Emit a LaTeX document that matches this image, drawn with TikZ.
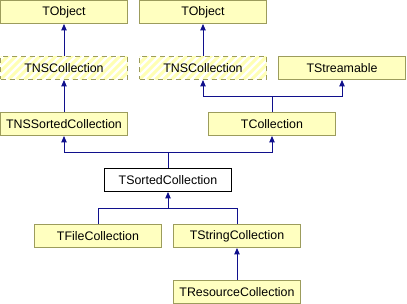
\documentclass[tikz,border=0pt]{standalone}
\usepackage{fontspec}
\setmainfont{Liberation Sans}
\usetikzlibrary{arrows.meta}
\definecolor{boxfill}{HTML}{FFFFC0}
\definecolor{boxline}{HTML}{9C9C5C}
\definecolor{hatch}{HTML}{FFFFB4}
\definecolor{edgecol}{HTML}{10108C}
\tikzset{
  cls/.style={draw=boxline, fill=boxfill, line width=1pt, minimum width=127pt, minimum height=23pt, inner sep=0pt, font=\fontsize{12.4}{14}\selectfont},
  plain/.style={cls, draw=black, fill=white},
  hatched/.style={cls, fill=white, dash pattern=on 5pt off 4pt,
    path picture={
      \foreach \i in {-40,-32,...,140}{
        \draw[hatch, line width=3pt, solid] ([xshift=\i pt]path picture bounding box.south west) -- ++(30pt,30pt);
      }
    }},
  edge/.style={draw=edgecol, line width=1pt},
  arr/.style={edge, -{Triangle[length=6.5pt,width=5.5pt]}}
}
\begin{document}
\begin{tikzpicture}[x=1pt,y=-1pt]
\useasboundingbox (0,0) rectangle (407,304);
\node[cls] (objL) at (64,12) {TObject};
\node[cls] (objR) at (203,12) {TObject};
\node[hatched] (nsL) at (64,68) {TNSCollection};
\node[hatched] (nsR) at (203,68) {TNSCollection};
\node[cls] (strm) at (342,68) {TStreamable};
\node[cls] (nssorted) at (64,124) {TNSSortedCollection};
\node[cls] (coll) at (272,124) {TCollection};
\node[plain] (sorted) at (168,180) {TSortedCollection};
\node[cls] (file) at (98,236) {TFileCollection};
\node[cls] (string) at (237,236) {TStringCollection};
\node[cls] (res) at (237,292) {TResourceCollection};

\coordinate (j1) at (272,96.5);
\coordinate (j2) at (168,152.5);
\coordinate (j3) at (168,208.5);

\draw[arr] (nsL.north) -- (objL.south);
\draw[arr] (nsR.north) -- (objR.south);
\draw[arr] (nssorted.north) -- (nsL.south);
\draw[arr] (coll.north) -- (j1) -| (nsR.south);
\draw[arr] (j1) -| (strm.south);
\draw[arr] (sorted.north) -- (j2) -| (nssorted.south);
\draw[arr] (j2) -| (coll.south);
\draw[arr] (file.north) |- (j3) -- (sorted.south);
\draw[edge] (string.north) |- (j3);
\draw[arr] (res.north) -- (string.south);
\end{tikzpicture}
\end{document}
